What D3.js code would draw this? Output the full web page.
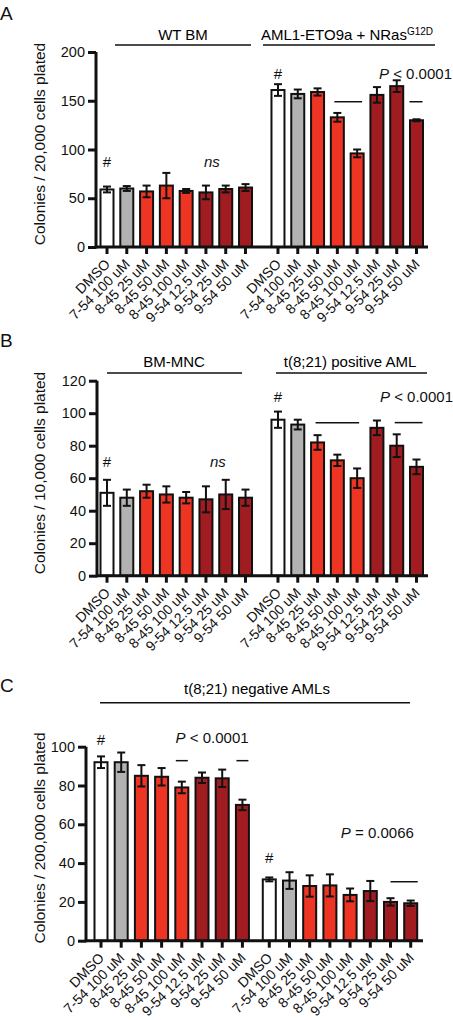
<!DOCTYPE html>
<html>
<head>
<meta charset="utf-8">
<script src="https://cdn.jsdelivr.net/npm/d3@7"></script>
<style>
  html, body { margin: 0; padding: 0; background: #fff; }
  svg { display: block; font-family: "Liberation Sans", Arial, sans-serif; }
</style>
</head>
<body>
<svg id="chart" width="453" height="1020"></svg>
<script>
// ---------- DATA ----------
const categories = ["DMSO", "7-54 100 uM", "8-45 25 uM", "8-45 50 uM", "8-45 100 uM", "9-54 12.5 uM", "9-54 25 uM", "9-54 50 uM"];
const categoryColors = ["#ffffff", "#b2b2b2", "#ee3524", "#ee3524", "#ee3524", "#a01c20", "#a01c20", "#a01c20"];

// Panel A
const aGroupNames = ["WT BM", "AML1-ETO9a + NRas"];
const aWtMean = [59, 60, 57, 63, 57.5, 56, 59.5, 61];
const aWtErr  = [3, 2.5, 6, 13, 2, 7, 3.5, 3.5];
const aAmlMean = [161, 157, 159, 133, 96, 156, 165, 130];
const aAmlErr  = [6, 4.5, 3.7, 4.5, 4, 8, 6, 1];
const aTicks = [0, 50, 100, 150, 200];

// Panel B
const bGroupNames = ["BM-MNC", "t(8;21) positive AML"];
const bMncMean = [51, 48, 52, 50, 48, 47, 50, 48];
const bMncErr  = [8, 5, 4, 5, 3.5, 8, 9, 5];
const bPosMean = [96, 93, 82, 71, 60, 91, 80, 67];
const bPosErr  = [5, 3, 4.5, 3.5, 6, 4.5, 7, 4.5];
const bTicks = [0, 20, 40, 60, 80, 100, 120];

// Panel C
const cGroupName = "t(8;21) negative AMLs";
const cNeg1Mean = [92, 92, 85, 84.5, 79, 84, 83.7, 70];
const cNeg1Err  = [3, 5, 5.5, 4.5, 3, 2.7, 4.5, 2.7];
const cNeg2Mean = [31.6, 31, 28.2, 28.5, 23.6, 25.6, 20, 19.3];
const cNeg2Err  = [1, 4.3, 5.5, 5.7, 3.3, 5.2, 1.9, 1.4];
const cTicks = [0, 20, 40, 60, 80, 100];

// ---------- DRAW ----------
const svg = d3.select("#chart");
const FONT = "Liberation Sans, Arial, sans-serif";

function drawPanel(cfg) {
  const g = svg.append("g");
  const y = d3.scaleLinear().domain(cfg.yDomain).range(cfg.yRange);
  const x = d3.scaleLinear().domain([0, cfg.groupOffset + 7]).range(cfg.xRange);
  const bw = cfg.barWidth;

  const rows = [];
  cfg.groups.forEach((grp, gi) => {
    grp.mean.forEach((m, i) => {
      rows.push({ pos: gi * cfg.groupOffset + i, mean: m, err: grp.err[i], cat: i });
    });
  });

  // bars
  g.selectAll("rect.bar").data(rows).enter().append("rect")
    .attr("x", d => x(d.pos) - bw / 2)
    .attr("y", d => y(d.mean))
    .attr("width", bw)
    .attr("height", d => y(0) - y(d.mean))
    .attr("fill", d => categoryColors[d.cat])
    .attr("stroke", "#111")
    .attr("stroke-width", 2);

  // error bars
  const eb = g.selectAll("g.eb").data(rows).enter().append("g");
  eb.append("line")
    .attr("x1", d => x(d.pos)).attr("x2", d => x(d.pos))
    .attr("y1", d => y(d.mean + d.err)).attr("y2", d => y(d.mean - d.err))
    .attr("stroke", "#111").attr("stroke-width", 2);
  eb.append("line")
    .attr("x1", d => x(d.pos) - 4).attr("x2", d => x(d.pos) + 4)
    .attr("y1", d => y(d.mean + d.err)).attr("y2", d => y(d.mean + d.err))
    .attr("stroke", "#111").attr("stroke-width", 2);
  eb.append("line")
    .attr("x1", d => x(d.pos) - 4).attr("x2", d => x(d.pos) + 4)
    .attr("y1", d => y(d.mean - d.err)).attr("y2", d => y(d.mean - d.err))
    .attr("stroke", "#111").attr("stroke-width", 2);

  // y axis
  const yAxis = d3.axisLeft(y).tickValues(cfg.ticks).tickSize(8).tickPadding(3);
  const ya = g.append("g").attr("transform", `translate(${cfg.yAxisX},0)`).call(yAxis);
  ya.select(".domain").attr("d", `M0,${y(0) + 1.5}V${y(cfg.yDomain[1])}`).attr("stroke", "#111").attr("stroke-width", 3);
  ya.selectAll(".tick line").attr("stroke", "#111").attr("stroke-width", 3);
  ya.selectAll(".tick text").attr("font-size", 14.5).attr("font-family", FONT).attr("fill", "#111");

  // x axis
  const xa = g.append("g").attr("transform", `translate(0,${y(0)})`);
  xa.append("line").attr("x1", cfg.yAxisX).attr("x2", cfg.xAxisEnd)
    .attr("y1", 0).attr("y2", 0).attr("stroke", "#111").attr("stroke-width", 3);
  xa.selectAll("line.xt").data(rows).enter().append("line")
    .attr("x1", d => x(d.pos)).attr("x2", d => x(d.pos))
    .attr("y1", 0).attr("y2", 7).attr("stroke", "#111").attr("stroke-width", 3);
  xa.selectAll("text.xl").data(rows).enter().append("text")
    .attr("transform", d => `translate(${x(d.pos) + 4},${cfg.labelDy}) rotate(-45)`)
    .attr("text-anchor", "end")
    .attr("font-size", 14).attr("font-family", FONT).attr("fill", "#111")
    .text(d => categories[d.cat]);

  // y label
  g.append("text")
    .attr("transform", `translate(${cfg.yLabelX},${cfg.yLabelY}) rotate(-90)`)
    .attr("text-anchor", "middle").attr("font-size", 15.5).attr("font-family", FONT).attr("fill", "#111")
    .text(cfg.yLabel);

  // panel letter
  g.append("text").attr("x", 0).attr("y", cfg.letterY)
    .attr("font-size", 19).attr("font-family", FONT).attr("fill", "#111").text(cfg.letter);

  // annotations
  cfg.hashes.forEach(h => {
    g.append("text").attr("x", x(h.pos)).attr("y", y(h.v)).attr("text-anchor", "middle")
      .attr("font-size", 15).attr("font-family", FONT).attr("fill", "#111").text("#");
  });
  cfg.lines.forEach(l => {
    g.append("line").attr("x1", x(l.from) + l.dx1).attr("x2", x(l.to) + l.dx2)
      .attr("y1", y(l.v)).attr("y2", y(l.v)).attr("stroke", "#111").attr("stroke-width", 1.5);
  });
  cfg.texts.forEach(t => {
    const tx = g.append("text").attr("x", t.px !== undefined ? t.px : x(t.pos)).attr("y", y(t.v))
      .attr("text-anchor", t.anchor).attr("font-size", 15).attr("font-family", FONT).attr("fill", "#111");
    t.parts.forEach(p => {
      tx.append("tspan").attr("font-style", p.italic ? "italic" : "normal").text(p.s);
    });
  });
  return { g, x, y };
}

// ---- Panel A ----
const A = drawPanel({
  letter: "A", letterY: 20,
  yDomain: [0, 200], yRange: [247, 52], ticks: aTicks,
  xRange: [107, 416.5], groupOffset: 8.64, yAxisX: 96, xAxisEnd: 428, barWidth: 13,
  labelDy: 18,
  groups: [{ mean: aWtMean, err: aWtErr }, { mean: aAmlMean, err: aAmlErr }],
  yLabel: "Colonies / 20,000 cells plated", yLabelX: 45, yLabelY: 144,
  hashes: [{ pos: 0, v: 82 }, { pos: 8.64, v: 172 }],
  lines: [{ from: 8.64 + 3, to: 8.64 + 4, dx1: -3, dx2: 5, v: 149 },
          { from: 8.64 + 7, to: 8.64 + 7, dx1: -7, dx2: 6, v: 149 }],
  texts: [{ pos: 5.3, v: 82, anchor: "middle", parts: [{ s: "ns", italic: true }] },
          { px: 452, v: 172.5, anchor: "end", parts: [{ s: "P", italic: true }, { s: " < 0.0001" }] }]
});
// group titles A
A.g.append("line").attr("x1", 115).attr("x2", 251).attr("y1", 45).attr("y2", 45).attr("stroke", "#111").attr("stroke-width", 1.5);
A.g.append("line").attr("x1", 263).attr("x2", 435).attr("y1", 45).attr("y2", 45).attr("stroke", "#111").attr("stroke-width", 1.5);
A.g.append("text").attr("x", 183).attr("y", 39.5).attr("text-anchor", "middle").attr("font-size", 15).attr("font-family", FONT).text(aGroupNames[0]);
const aT2 = A.g.append("text").attr("x", 347).attr("y", 39.5).attr("text-anchor", "middle").attr("font-size", 15).attr("font-family", FONT);
aT2.append("tspan").text(aGroupNames[1]);
aT2.append("tspan").attr("font-size", 10).attr("dy", -5).text("G12D");

// ---- Panel B ----
const B = drawPanel({
  letter: "B", letterY: 347,
  yDomain: [0, 120], yRange: [575.7, 380.7], ticks: bTicks,
  xRange: [107, 416.5], groupOffset: 8.64, yAxisX: 97, xAxisEnd: 428, barWidth: 13,
  labelDy: 18,
  groups: [{ mean: bMncMean, err: bMncErr }, { mean: bPosMean, err: bPosErr }],
  yLabel: "Colonies / 10,000 cells plated", yLabelX: 45, yLabelY: 473,
  hashes: [{ pos: 0, v: 67 }, { pos: 8.64, v: 107 }],
  lines: [{ from: 8.64 + 2, to: 8.64 + 4, dx1: -2, dx2: 2, v: 94.2 },
          { from: 8.64 + 6, to: 8.64 + 7, dx1: -2, dx2: 6, v: 94.2 }],
  texts: [{ pos: 5.6, v: 67, anchor: "middle", parts: [{ s: "ns", italic: true }] },
          { px: 453, v: 107, anchor: "end", parts: [{ s: "P", italic: true }, { s: " < 0.0001" }] }]
});
B.g.append("line").attr("x1", 107).attr("x2", 242).attr("y1", 373).attr("y2", 373).attr("stroke", "#111").attr("stroke-width", 1.5);
B.g.append("line").attr("x1", 276).attr("x2", 427).attr("y1", 373).attr("y2", 373).attr("stroke", "#111").attr("stroke-width", 1.5);
B.g.append("text").attr("x", 174).attr("y", 367).attr("text-anchor", "middle").attr("font-size", 15).attr("font-family", FONT).text(bGroupNames[0]);
B.g.append("text").attr("x", 350).attr("y", 367).attr("text-anchor", "middle").attr("font-size", 15).attr("font-family", FONT).text(bGroupNames[1]);

// ---- Panel C ----
const C = drawPanel({
  letter: "C", letterY: 692,
  yDomain: [0, 100], yRange: [940.7, 746.7], ticks: cTicks,
  xRange: [101, 410.7], groupOffset: 8.33, yAxisX: 86, xAxisEnd: 423, barWidth: 13,
  labelDy: 18,
  groups: [{ mean: cNeg1Mean, err: cNeg1Err }, { mean: cNeg2Mean, err: cNeg2Err }],
  yLabel: "Colonies / 200,000 cells plated", yLabelX: 45, yLabelY: 838,
  hashes: [{ pos: 0, v: 101 }, { pos: 8.33, v: 40 }],
  lines: [{ from: 4, to: 4, dx1: -6, dx2: 6, v: 92.8 },
          { from: 7, to: 7, dx1: -6, dx2: 6, v: 92.8 },
          { from: 8.33 + 6, to: 8.33 + 7, dx1: 0, dx2: 7, v: 30.4 }],
  texts: [{ pos: 5.5, v: 102, anchor: "middle", parts: [{ s: "P", italic: true }, { s: " < 0.0001" }] },
          { pos: 8.33 + 5.35, v: 52.8, anchor: "middle", parts: [{ s: "P", italic: true }, { s: " = 0.0066" }] }]
});
C.g.append("line").attr("x1", 100).attr("x2", 410).attr("y1", 702.7).attr("y2", 702.7).attr("stroke", "#111").attr("stroke-width", 1.5);
C.g.append("text").attr("x", 257).attr("y", 694).attr("text-anchor", "middle").attr("font-size", 15).attr("font-family", FONT).text(cGroupName);
</script>
</body>
</html>
